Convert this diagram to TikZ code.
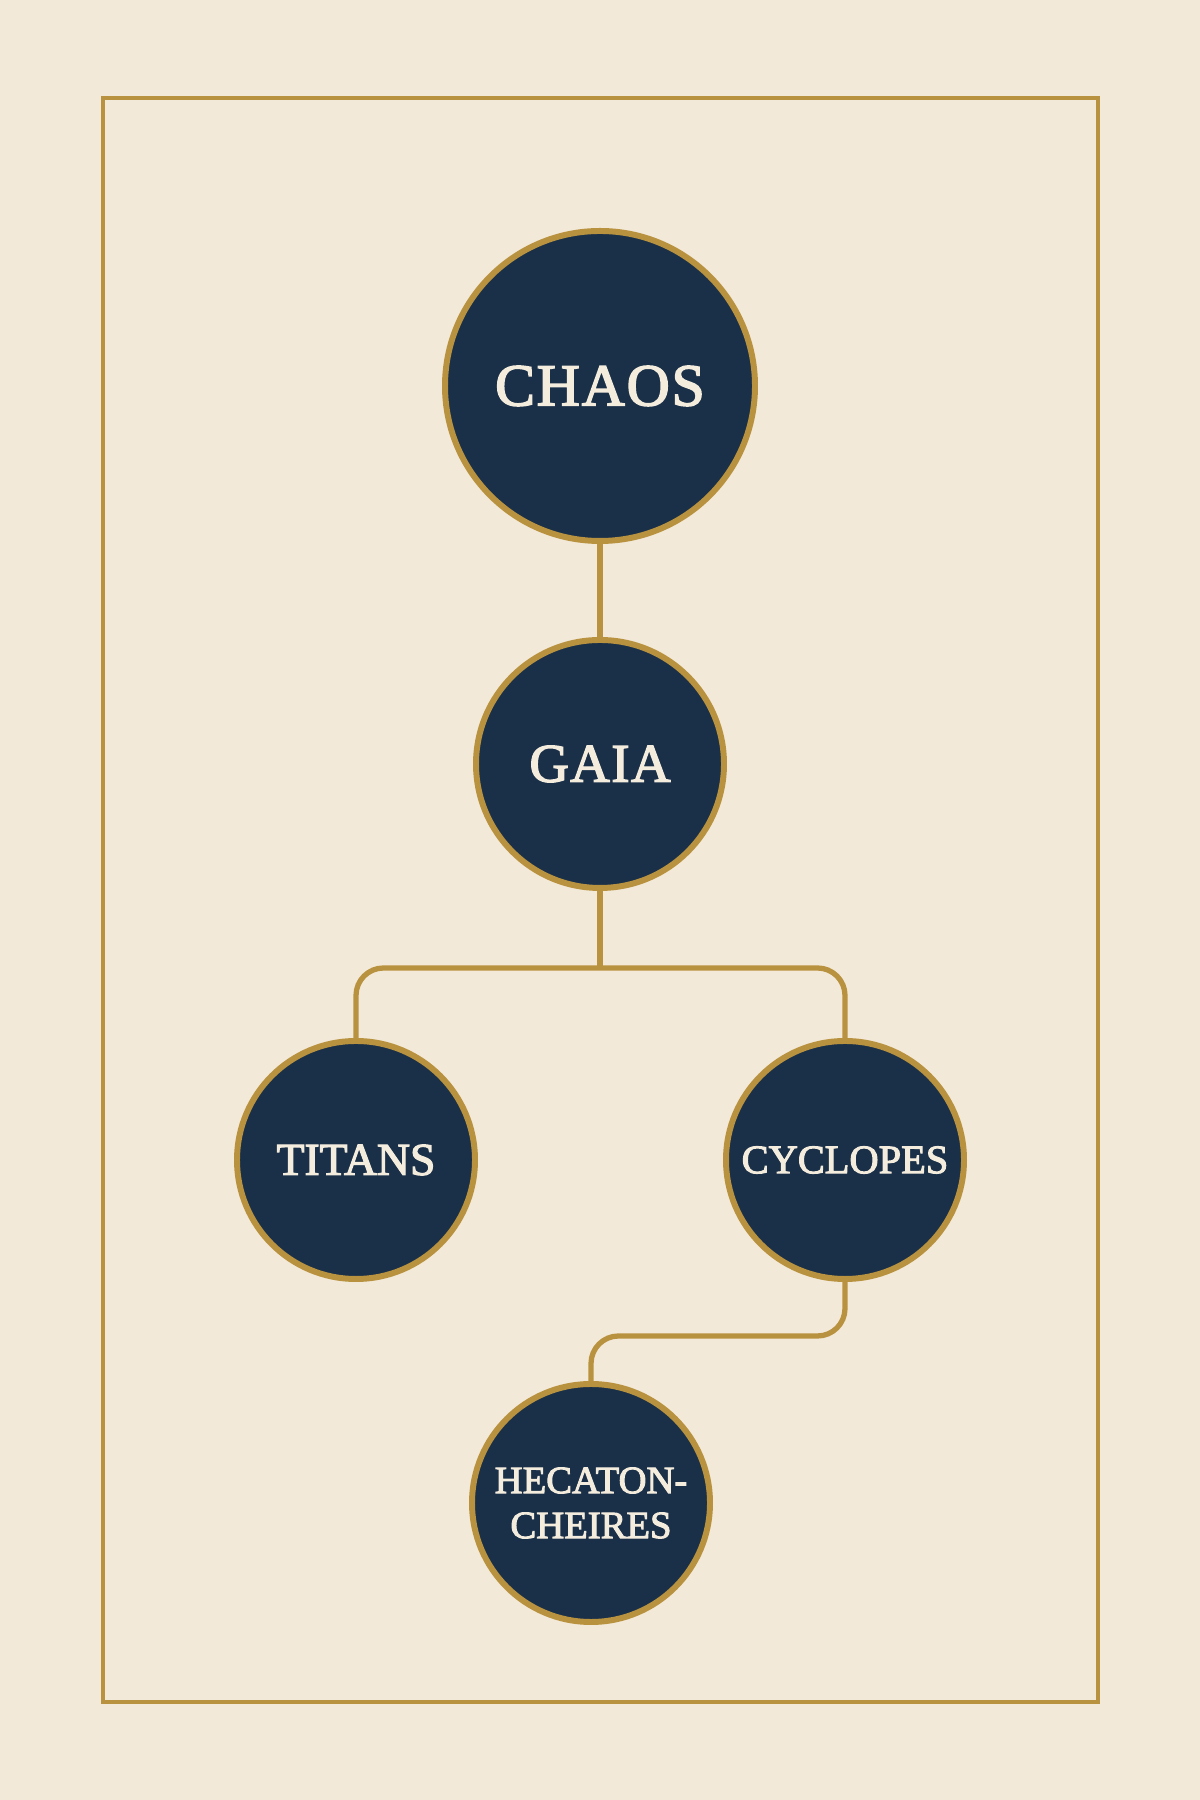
\documentclass[tikz,border=0pt]{standalone}
\usepackage{fontspec}
\setmainfont{Liberation Serif}
\newfontfamily\deityfont[FakeBold=2.5]{Liberation Serif}
\usepackage{tikz}

\definecolor{paper}{HTML}{F3E9D9}
\definecolor{navy}{HTML}{1A3049}
\definecolor{gold}{HTML}{B8923F}
\definecolor{ivory}{HTML}{F4ECDD}

\tikzset{
	deity/.style={circle, draw=gold, line width=3.4pt, fill=navy, text=ivory,
		inner sep=0pt, minimum size=#1, align=center},
	link/.style={draw=gold, line width=3pt, rounded corners=0.55cm}
}

\begin{document}
\begin{tikzpicture}
		\fill[paper] (0, 0) rectangle (24, 36);
		\useasboundingbox (0, 0) rectangle (24, 36);
		\draw[gold, line width=2.2pt] (2.06, 1.96) rectangle (21.96, 34.04);
		
		\node[deity=6.2cm, font=\deityfont\fontsize{34}{40}\selectfont] (chaos) at (12, 28.28) {C\kern0.03em H\kern0.03em A\kern0.03em O\kern0.03em S};
		\node[deity=4.96cm, font=\deityfont\fontsize{31}{36}\selectfont] (gaia) at (12, 20.72) {G\kern0.03em A\kern0.03em I\kern0.03em A};
		\node[deity=4.76cm, font=\deityfont\fontsize{26}{30}\selectfont] (titans) at (7.12, 12.8) {TITANS};
		\node[deity=4.76cm, font=\deityfont\fontsize{23}{28}\selectfont] (cyclopes) at (16.9, 12.8) {CYCLOPES};
		\node[deity=4.76cm, font=\deityfont\fontsize{22}{25.6}\selectfont] (hecaton) at (11.82, 5.94) {HECATON-\\CHEIRES};
		
		\coordinate (split) at (12, 16.64);
		\coordinate (drop) at (14, 9.28);
		
		\draw[link] (chaos) -- (gaia);
		\draw[link] (gaia.south) -- (split);
		\draw[link] (titans.north) |- (split) -| (cyclopes.north);
		\draw[link] (cyclopes.south) |- (drop) -| (hecaton.north);
		
	\end{tikzpicture}
\end{document}
